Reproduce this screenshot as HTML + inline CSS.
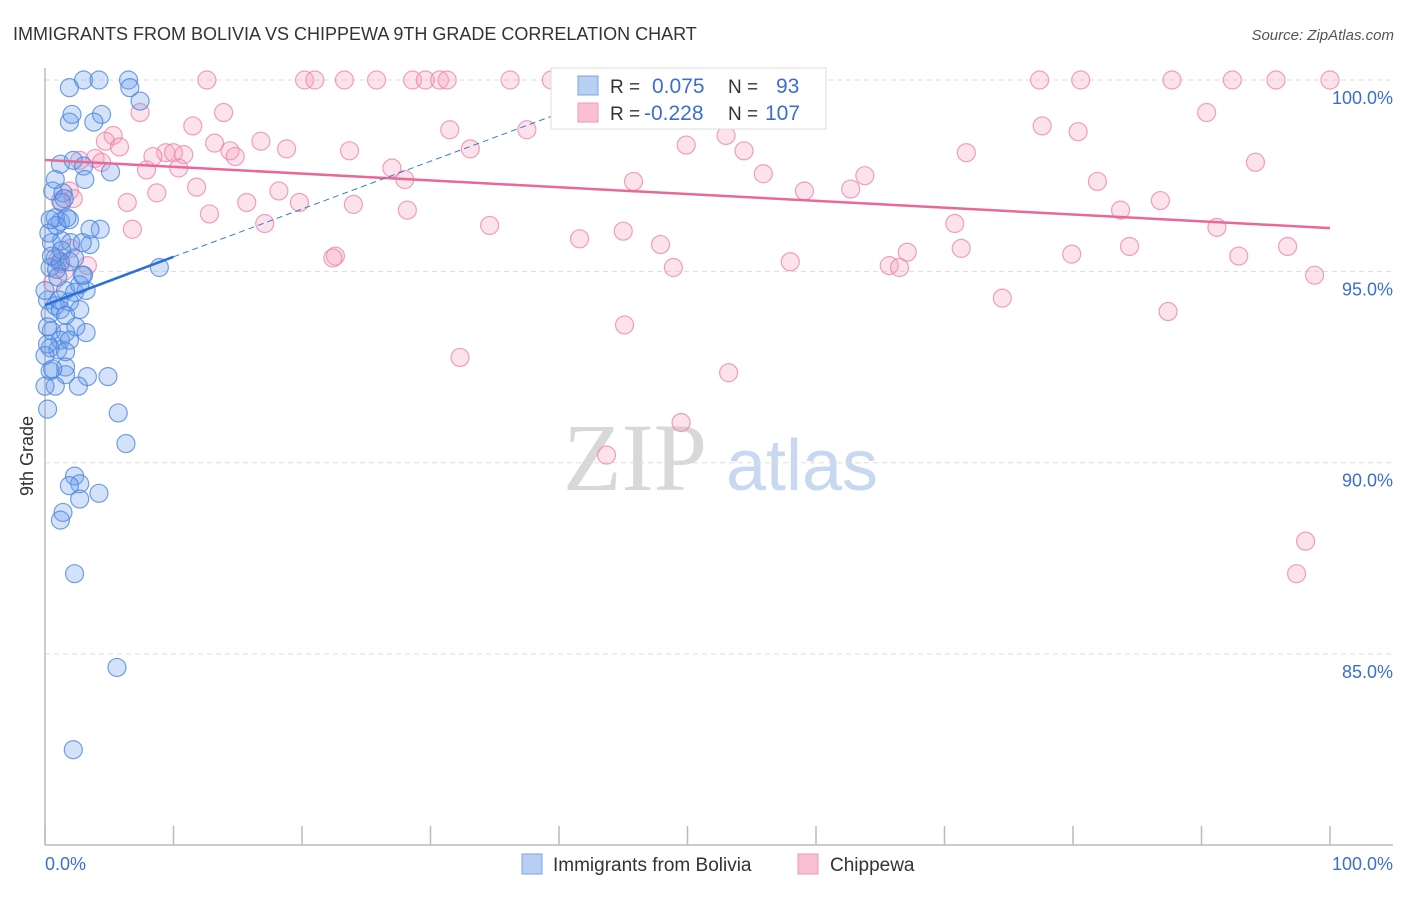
<!DOCTYPE html>
<html><head><meta charset="utf-8">
<style>
html,body{margin:0;padding:0;background:#fff;}
body{width:1406px;height:892px;overflow:hidden;font-family:"Liberation Sans",sans-serif;}
</style></head>
<body>
<svg id="chart" width="1406" height="892" xmlns="http://www.w3.org/2000/svg" font-family="Liberation Sans, sans-serif">
<text x="13" y="40" font-size="18" fill="#333">IMMIGRANTS FROM BOLIVIA VS CHIPPEWA 9TH GRADE CORRELATION CHART</text>
<text x="1394" y="40" font-size="15" fill="#555" font-style="italic" text-anchor="end">Source: ZipAtlas.com</text>
<g>
<text x="635" y="490" font-size="96" fill="#d8d8d8" text-anchor="middle" font-family="Liberation Serif, serif">ZIP</text>
<text x="802" y="490" font-size="72" fill="#c8d8f0" text-anchor="middle">atlas</text>
</g>
<g id="grid"></g>
<g id="axes"></g>
<g id="pts"></g>
<g id="lines"></g>
<text transform="translate(33,456) rotate(-90)" font-size="18" fill="#333" text-anchor="middle">9th Grade</text>
<g>
<rect x="551" y="68" width="275" height="61" fill="#fff" stroke="#ddd"/>
<rect x="578" y="76" width="20" height="19" fill="#b8d0f4" stroke="#7aa4e0"/>
<rect x="578" y="103" width="20" height="19" fill="#f8c0d0" stroke="#ee98b4"/>
<text x="610" y="93" font-size="19" fill="#333">R =</text>
<text x="652" y="93" font-size="21" fill="#3a6fd0">0.075</text>
<text x="728" y="93" font-size="19" fill="#333">N =</text>
<text x="776" y="93" font-size="21" fill="#3a6fd0">93</text>
<text x="610" y="120" font-size="19" fill="#333">R =</text>
<text x="644" y="120" font-size="21" fill="#3a6fd0">-0.228</text>
<text x="728" y="120" font-size="19" fill="#333">N =</text>
<text x="765" y="120" font-size="21" fill="#3a6fd0">107</text>
</g>
<g>
<rect x="522" y="854" width="20" height="20" fill="#b8d0f4" stroke="#7aa4e0"/>
<text x="553" y="871" font-size="19" fill="#333">Immigrants from Bolivia</text>
<rect x="798" y="854" width="20" height="20" fill="#f8c0d0" stroke="#ee98b4"/>
<text x="830" y="871" font-size="19" fill="#333">Chippewa</text>
</g>
</svg>
<script>
const yTickValues=[100,95,90,85];
const yTickLabels=["100.0%","95.0%","90.0%","85.0%"];
const xTickValues=[0,10,20,30,40,50,60,70,80,90,100];
const xEndLabels=["0.0%","100.0%"];
const blueX=[3.0,4.2,6.5,1.9,6.6,7.4,4.4,1.9,2.1,3.8,1.2,2.2,3.0,5.1,0.6,1.4,1.3,1.2,1.9,0.8,1.7,4.3,0.5,1.3,3.5,2.0,2.9,0.8,1.2,2.3,0.4,0.9,2.9,8.9,1.6,2.3,3.2,1.9,2.7,0.2,0.4,0.5,1.6,2.4,3.2,1.2,0.4,1.9,1.0,1.6,0.4,1.6,3.3,4.9,1.6,0.8,2.6,0.2,5.7,6.3,2.3,2.7,1.9,4.2,2.7,1.4,1.2,2.3,5.6,2.2,0,0.8,0.2,1.0,0.5,0.3,1.2,0,3.5,0.8,1.3,0.2,0.9,2.7,3.0,1.5,3.1,0,1.9,1.1,0.6,1.6,0.4];
const blueY=[100,100,100,99.8,99.8,99.45,99.1,98.9,99.1,98.9,97.8,97.9,97.75,97.6,97.1,97.05,96.8,96.3,96.35,96.4,96.4,96.1,95.75,95.8,95.7,95.75,95.75,95.35,95.25,95.35,95.1,95.05,94.9,95.1,94.5,94.45,94.5,94.2,94.0,94.25,93.9,93.45,93.4,93.55,93.4,93.2,93.0,93.2,92.95,92.9,92.4,92.5,92.25,92.25,92.3,92.0,92.0,91.4,91.3,90.5,89.65,89.45,89.4,89.2,89.05,88.7,88.5,87.1,84.65,82.5,92.0,94.1,93.55,94.85,95.4,96.0,94.0,94.5,96.1,97.4,95.55,93.1,96.2,94.65,94.9,96.9,97.4,92.8,95.25,94.25,92.45,93.85,96.35];
const pinkX=[12.6,20.2,21.0,23.3,25.8,28.6,29.6,30.7,31.3,36.2,39.4,51.8,77.4,80.6,87.7,92.4,95.8,100,13.9,7.4,11.5,5.3,4.7,5.8,31.5,37.5,53.0,77.6,80.4,90.4,13.2,14.4,16.8,18.8,23.7,33.1,49.9,54.4,71.7,94.2,9.4,10.0,10.8,8.4,14.8,10.4,7.9,3.9,4.4,2.7,27.0,28.0,45.8,55.9,63.8,81.9,11.8,8.7,18.2,59.1,62.7,1.9,2.2,1.2,6.4,15.7,19.8,24.0,28.2,12.8,17.1,34.6,6.8,86.8,83.7,70.8,91.2,41.6,45.0,47.9,71.3,84.4,96.7,67.1,22.6,22.4,3.3,48.9,58.0,65.7,66.5,79.9,92.9,98.8,74.5,87.4,45.1,32.3,53.2,49.5,43.7,98.1,97.4,1.0,1.5,0.6,2.0,1.2];
const pinkY=[100,100,100,100,100,100,100,100,100,100,100,99.8,100,100,100,100,100,100,99.15,99.15,98.8,98.55,98.4,98.25,98.7,98.7,98.55,98.8,98.65,99.15,98.35,98.15,98.4,98.2,98.15,98.2,98.3,98.15,98.1,97.85,98.1,98.1,98.05,98.0,98.0,97.7,97.65,97.95,97.85,97.9,97.7,97.4,97.35,97.55,97.5,97.35,97.2,97.05,97.1,97.1,97.15,97.1,96.9,96.85,96.8,96.8,96.8,96.75,96.6,96.5,96.25,96.2,96.1,96.85,96.6,96.25,96.15,95.85,96.05,95.7,95.6,95.65,95.65,95.5,95.4,95.35,95.15,95.1,95.25,95.15,95.1,95.45,95.4,94.9,94.3,93.95,93.6,92.75,92.35,91.05,90.2,87.95,87.1,95.3,95.0,94.7,95.6,95.2];
const blueTrend=[[0,94.12],[10,95.38]];
const blueTrendExt=[[10,95.38],[47,100]];
const pinkTrend=[[0,97.91],[100,96.13]];

const NS="http://www.w3.org/2000/svg";
function xs(v){return 45+v*12.85;}
function ys(v){return 80+(100-v)*38.27;}
function mk(tag,attrs,parent){const e=document.createElementNS(NS,tag);for(const k in attrs)e.setAttribute(k,attrs[k]);parent.appendChild(e);return e;}
const grid=document.getElementById('grid'),axes=document.getElementById('axes'),pts=document.getElementById('pts'),lines=document.getElementById('lines');
yTickValues.forEach((v,i)=>{
 const l=mk('line',{x1:45,x2:1393,y1:ys(v),y2:ys(v),stroke:'#ddd','stroke-dasharray':'5,4'},grid);
 
 
 const t=mk('text',{x:1393,y:ys(v)+24,'font-size':18,fill:'#3a6fd0','text-anchor':'end'},axes);
 t.textContent=yTickLabels[i];
 
 
});
const ya=mk('line',{x1:45,x2:45,y1:68,y2:845,stroke:'#bbb','stroke-width':1.5},axes);


const xa=mk('line',{x1:45,x2:1393,y1:845,y2:845,stroke:'#bbb','stroke-width':1.5},axes);


xTickValues.forEach(v=>{
 const t=mk('line',{x1:xs(v),x2:xs(v),y1:826,y2:845,stroke:'#bbb','stroke-width':1.5},axes);
 
 
});
const xl0=mk('text',{x:45,y:870,'font-size':18,fill:'#3a6fd0'},axes);xl0.textContent=xEndLabels[0];


const xl1=mk('text',{x:1393,y:870,'font-size':18,fill:'#3a6fd0','text-anchor':'end'},axes);xl1.textContent=xEndLabels[1];


pinkX.forEach((x,i)=>{
 const c=mk('circle',{cx:xs(x),cy:ys(pinkY[i]),r:9,fill:'rgba(244,160,188,0.3)',stroke:'rgba(236,130,165,0.75)','stroke-width':1.2},pts);
 
 
});
blueX.forEach((x,i)=>{
 const c=mk('circle',{cx:xs(x),cy:ys(blueY[i]),r:9,fill:'rgba(110,160,235,0.3)',stroke:'rgba(70,130,220,0.75)','stroke-width':1.2},pts);
 
 
});
const pl=mk('line',{x1:xs(pinkTrend[0][0]),y1:ys(pinkTrend[0][1]),x2:xs(pinkTrend[1][0]),y2:ys(pinkTrend[1][1]),stroke:'#e8689a','stroke-width':2.5},lines);


const bd=mk('line',{x1:xs(blueTrendExt[0][0]),y1:ys(blueTrendExt[0][1]),x2:xs(blueTrendExt[1][0]),y2:ys(blueTrendExt[1][1]),stroke:'#3a78d8','stroke-width':1,'stroke-dasharray':'6,4'},lines);


const bl=mk('line',{x1:xs(blueTrend[0][0]),y1:ys(blueTrend[0][1]),x2:xs(blueTrend[1][0]),y2:ys(blueTrend[1][1]),stroke:'#2a6fd6','stroke-width':2.5},lines);


</script>
</body></html>
